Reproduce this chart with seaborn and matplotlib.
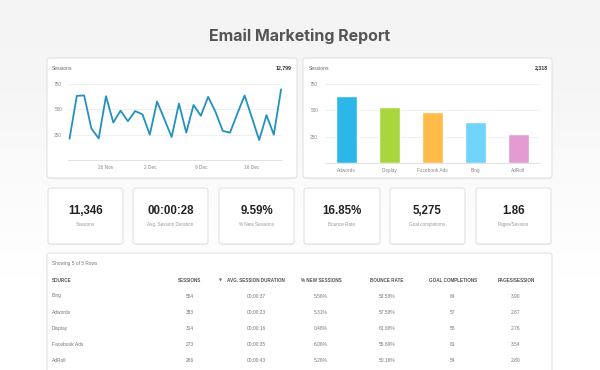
import numpy as np
import pandas as pd
import seaborn as sns
import matplotlib.pyplot as plt
from matplotlib.patches import FancyBboxPatch

# daily sessions (line chart)
dates = pd.date_range("2023-11-21", periods=30, freq="D")
daily_sessions = [210, 633, 637, 310, 213, 630, 370, 487, 383, 483,
                  450, 250, 577, 403, 227, 557, 270, 543, 437, 623,
                  477, 287, 270, 457, 637, 417, 197, 443, 250, 697]
line_total = "12,799"
date_ticks = ["2023-11-26", "2023-12-02", "2023-12-09", "2023-12-16"]
date_tick_labels = ["26 Nov", "2 Dec", "9 Dec", "16 Dec"]

# sessions by source (bar chart)
bar_sources = ["Adwords", "Display", "Facebook Ads", "Bing", "AdRoll"]
bar_sessions = [632, 535, 487, 387, 277]
bar_colors = ["#2cb7e9", "#a9d63c", "#ffbb48", "#6fd3fb", "#e39bd1"]
bar_total = "2,318"

# kpi cards
kpi_values = ["11,346", "00:00:28", "9.59%", "16.85%", "5,275", "1.86"]
kpi_labels = ["Sessions", "Avg. Session Duration", "% New Sessions",
              "Bounce Rate", "Goal completions", "Pages/Session"]

# table
table_columns = ["SOURCE", "SESSIONS", "AVG. SESSION DURATION", "% NEW SESSIONS",
                 "BOUNCE RATE", "GOAL COMPLETIONS", "PAGES/SESSION"]
table_source = ["Bing", "Adwords", "Display", "Facebook Ads", "AdRoll"]
table_sessions = ["554", "383", "314", "273", "266"]
table_duration = ["00:00:37", "00:00:23", "00:00:16", "00:00:35", "00:00:43"]
table_new = ["5.56%", "5.31%", "0.48%", "6.06%", "5.26%"]
table_bounce = ["53.58%", "57.58%", "61.68%", "55.69%", "50.16%"]
table_goals = ["64", "57", "58", "61", "54"]
table_pages = ["3.90", "2.67", "2.76", "3.54", "2.80"]

sns.set_theme(style="white")
plt.rcParams["font.family"] = ["Liberation Sans", "DejaVu Sans"]

W, H = 600, 370
fig = plt.figure(figsize=(6, 3.7), dpi=100)
fig.patch.set_facecolor("white")


def fx(x):
    return x / W


def fy(y):
    return 1 - y / H


# soft grey gradient behind the title, fading to white lower down
bg = fig.add_axes([0, 0, 1, 1], zorder=-10)
grad = np.linspace(0, 1, 200).reshape(-1, 1)
bg.imshow(grad, extent=[0, 1, 0, 1], aspect="auto", origin="lower",
          cmap=sns.blend_palette(["#ffffff", "#ffffff", "#fbfbfb", "#f6f6f7", "#f4f4f5"],
                                 as_cmap=True))
bg.axis("off")


def card(x0, y0, x1, y1):
    shadow = FancyBboxPatch((fx(x0), fy(y1) - 0.003), fx(x1 - x0), (y1 - y0) / H,
                            boxstyle="round,pad=0,rounding_size=0.006",
                            transform=fig.transFigure, facecolor="#ededed",
                            edgecolor="none", zorder=-2)
    box = FancyBboxPatch((fx(x0), fy(y1)), fx(x1 - x0), (y1 - y0) / H,
                         boxstyle="round,pad=0,rounding_size=0.006",
                         transform=fig.transFigure, facecolor="white",
                         edgecolor="#e2e2e2", linewidth=0.8, zorder=-1)
    fig.patches.extend([shadow, box])


fig.text(0.5, fy(36), "Email Marketing Report", ha="center", va="center",
         fontsize=11.5, fontweight="bold", color="#555555",
         family=["Inter", "DejaVu Sans"])

# ---- line chart card
card(47, 58, 297, 178)
fig.text(fx(52), fy(68), "Sessions", fontsize=3.6, color="#666666", va="center")
fig.text(fx(292), fy(68), line_total, fontsize=3.8, color="#333333",
         fontweight="bold", va="center", ha="right")

ax1 = fig.add_axes([fx(68), fy(160), fx(214), 76 / H])
line_df = pd.DataFrame({"date": dates, "sessions": daily_sessions})
sns.lineplot(data=line_df, x="date", y="sessions", ax=ax1, color="#2291bf",
             linewidth=1.3, clip_on=False)
ax1.set_ylim(0, 750)
ax1.set_xlim(dates[0] - pd.Timedelta(hours=5), dates[-1] + pd.Timedelta(hours=3))
ax1.set_yticks([250, 500, 750])
ax1.set_xticks(pd.to_datetime(date_ticks))
ax1.set_xticklabels(date_tick_labels)

# ---- bar chart card
card(303, 58, 552, 178)
fig.text(fx(309), fy(68), "Sessions", fontsize=3.6, color="#666666", va="center")
fig.text(fx(548), fy(68), bar_total, fontsize=3.8, color="#333333",
         fontweight="bold", va="center", ha="right")

ax2 = fig.add_axes([fx(325), fy(163), fx(215), 79 / H])
bar_df = pd.DataFrame({"source": bar_sources, "sessions": bar_sessions})
sns.barplot(data=bar_df, x="source", y="sessions", hue="source",
            palette=bar_colors, saturation=1, width=0.49, legend=False, ax=ax2)
ax2.set_ylim(0, 750)
ax2.set_xlim(-0.5, len(bar_sources) - 0.5)
ax2.set_yticks([250, 500, 750])

for ax, pad in [(ax1, 4.3), (ax2, 5)]:
    ax.set_xlabel("")
    ax.set_ylabel("")
    ax.grid(axis="y", color="#eeeeee", linewidth=0.6)
    ax.set_axisbelow(True)
    for s in ["top", "right", "left"]:
        ax.spines[s].set_visible(False)
    ax.spines["bottom"].set_color("#dddddd")
    ax.spines["bottom"].set_linewidth(0.6)
    ax.tick_params(axis="y", length=0, labelsize=3.4, labelcolor="#888888", pad=pad)
    ax.tick_params(axis="x", length=0, labelsize=3.4, labelcolor="#888888", pad=3.5)
    ax.set_facecolor("none")

# ---- kpi cards
kpi_boxes = [(48, 123), (133, 208), (219, 294), (304, 380), (390, 465), (476, 551)]
for (x0, x1), val, lab in zip(kpi_boxes, kpi_values, kpi_labels):
    card(x0, 188, x1, 244)
    cx = fx((x0 + x1) / 2)
    fig.text(cx, fy(211), val, ha="center", va="center", fontsize=8.3,
             fontweight="bold", color="#222222")
    fig.text(cx, fy(224.5), lab, ha="center", va="center", fontsize=3.3,
             color="#999999")

# ---- table card
card(47, 253, 552, 372)
fig.text(fx(52), fy(264), "Showing 5 of 5 Rows", fontsize=3.4, color="#777777",
         va="center")

col_x = [52, 190, 256, 321, 387, 453, 516]
col_ha = ["left"] + ["center"] * 6
fig.text(fx(220), fy(280), "▼", fontsize=2.8, color="#666666", ha="center",
         va="center", family=["DejaVu Sans"])
for x, ha, name in zip(col_x, col_ha, table_columns):
    fig.text(fx(x), fy(280), name, fontsize=3.3, color="#555555", ha=ha,
             va="center", fontweight="bold")

row_y = [296, 312, 328.5, 345, 361]
columns = [table_source, table_sessions, table_duration, table_new,
           table_bounce, table_goals, table_pages]
for col, x, ha in zip(columns, col_x, col_ha):
    for y, v in zip(row_y, col):
        fig.text(fx(x), fy(y), v, fontsize=3.5, color="#777777", ha=ha, va="center")

fig.savefig("out.png", dpi=100)
